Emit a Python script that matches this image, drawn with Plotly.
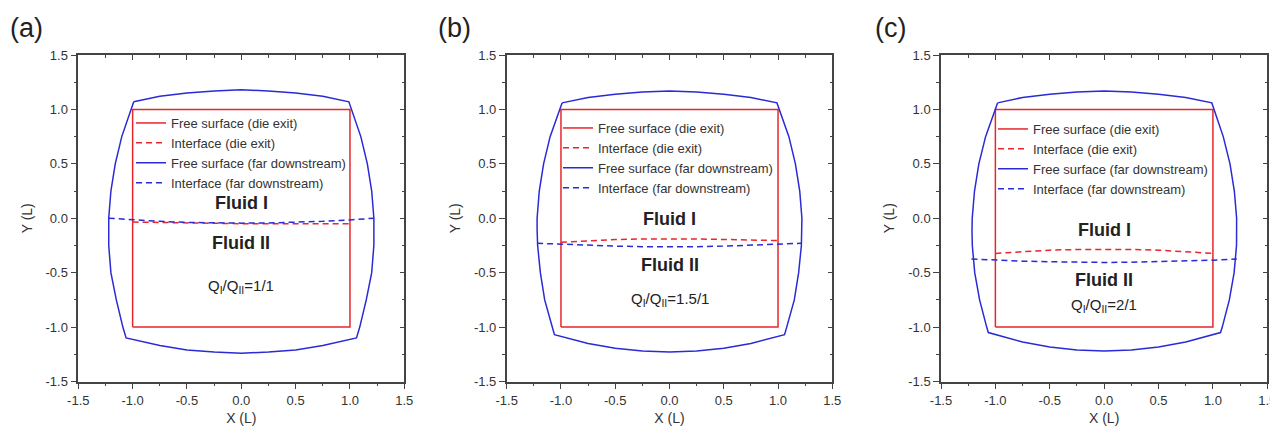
import plotly.graph_objects as go

# ---------------- data ----------------
panel_labels = ["(a)", "(b)", "(c)"]
ratio_labels = ["Q<sub>I</sub>/Q<sub>II</sub>=1/1", "Q<sub>I</sub>/Q<sub>II</sub>=1.5/1", "Q<sub>I</sub>/Q<sub>II</sub>=2/1"]
series_names = ["Free surface (die exit)", "Interface (die exit)",
                "Free surface (far downstream)", "Interface (far downstream)"]

# die exit free surface (square)
die_x = [-1, 1, 1, -1, -1]
die_y = [-1, -1, 1, 1, -1]

# far-downstream free surface outlines
far_a_x = [-0.99, -0.75, -0.5, -0.25, 0, 0.25, 0.5, 0.75, 0.99,
           1.10, 1.16, 1.20, 1.22, 1.22, 1.20, 1.15, 1.09, 1.06,
           0.75, 0.5, 0.25, 0, -0.25, -0.5, -0.75, -1.06,
           -1.09, -1.15, -1.20, -1.22, -1.22, -1.20, -1.16, -1.10, -0.99]
far_a_y = [1.07, 1.12, 1.15, 1.17, 1.18, 1.17, 1.15, 1.12, 1.07,
           0.75, 0.5, 0.25, 0.0, -0.25, -0.5, -0.75, -1.0, -1.10,
           -1.17, -1.21, -1.23, -1.24, -1.23, -1.21, -1.17, -1.10,
           -1.0, -0.75, -0.5, -0.25, 0.0, 0.25, 0.5, 0.75, 1.07]

far_b_x = [-0.99, -0.75, -0.5, -0.25, 0, 0.25, 0.5, 0.75, 0.99,
           1.10, 1.16, 1.20, 1.22, 1.22, 1.215, 1.19, 1.15, 1.08, 1.06,
           0.75, 0.5, 0.25, 0, -0.25, -0.5, -0.75, -1.06,
           -1.08, -1.15, -1.19, -1.215, -1.22, -1.22, -1.20, -1.16, -1.10, -0.99]
far_b_y = [1.06, 1.11, 1.14, 1.16, 1.17, 1.16, 1.14, 1.11, 1.06,
           0.75, 0.5, 0.25, 0.0, -0.1, -0.25, -0.5, -0.75, -1.0, -1.07,
           -1.15, -1.195, -1.22, -1.23, -1.22, -1.195, -1.15, -1.07,
           -1.0, -0.75, -0.5, -0.25, -0.1, 0.0, 0.25, 0.5, 0.75, 1.06]

far_c_x = [-0.98, -0.75, -0.5, -0.25, 0, 0.25, 0.5, 0.75, 0.99,
           1.095, 1.157, 1.197, 1.218, 1.22, 1.217, 1.195, 1.151, 1.086, 1.07,
           0.75, 0.5, 0.25, 0, -0.25, -0.5, -0.75, -1.065,
           -1.08, -1.145, -1.19, -1.212, -1.215, -1.213, -1.192, -1.152, -1.09, -0.98]
far_c_y = [1.06, 1.11, 1.14, 1.16, 1.17, 1.16, 1.14, 1.11, 1.06,
           0.75, 0.5, 0.25, 0.0, -0.12, -0.25, -0.5, -0.75, -1.0, -1.05,
           -1.137, -1.183, -1.211, -1.22, -1.211, -1.183, -1.137, -1.05,
           -1.0, -0.75, -0.5, -0.25, -0.12, 0.0, 0.25, 0.5, 0.75, 1.06]

# interfaces
die_if_x = [-1, -0.75, -0.5, -0.25, 0, 0.25, 0.5, 0.75, 1]
die_if_a_y = [-0.035, -0.04, -0.045, -0.048, -0.05, -0.05, -0.05, -0.05, -0.05]
die_if_b_y = [-0.22, -0.205, -0.196, -0.19, -0.188, -0.19, -0.195, -0.20, -0.205]
die_if_c_y = [-0.323, -0.305, -0.293, -0.287, -0.285, -0.287, -0.293, -0.305, -0.323]

far_if_x = [-1.22, -1.0, -0.75, -0.5, -0.25, 0, 0.25, 0.5, 0.75, 1.0, 1.22]
far_if_a_y = [0.0, -0.015, -0.028, -0.038, -0.043, -0.045, -0.043, -0.038, -0.028, -0.015, 0.0]
far_if_b_y = [-0.23, -0.24, -0.249, -0.256, -0.261, -0.263, -0.261, -0.256, -0.249, -0.24, -0.23]
far_if_c_y = [-0.375, -0.385, -0.394, -0.4, -0.404, -0.406, -0.404, -0.4, -0.394, -0.385, -0.375]

# text label positions (data coords)
fluid1_y = [0.14, -0.01, -0.11]
fluid2_y = [-0.23, -0.43, -0.57]
ratio_y = [-0.63, -0.75, -0.80]

tick_vals = [-1.5, -1.0, -0.5, 0.0, 0.5, 1.0, 1.5]
tick_text = ["-1.5", "-1.0", "-0.5", "0.0", "0.5", "1.0", "1.5"]

far_x = [far_a_x, far_b_x, far_c_x]
far_y = [far_a_y, far_b_y, far_c_y]
die_if_y = [die_if_a_y, die_if_b_y, die_if_c_y]
far_if_y = [far_if_a_y, far_if_b_y, far_if_c_y]

# ---------------- styling / layout ----------------
RED = "#e8262b"
BLUE = "#2a2ad6"
AX = "#444444"
FONT = "Liberation Sans, Arial"
OFF = 8                      # page body margin
W, H = 1278 - OFF, 427 - OFF


def fx(px):                  # screen px -> paper x
    return (px - OFF) / W


def fy(py):                  # screen px (from top) -> paper y
    return 1 - (py - OFF) / H


x_dom_px = [(78.3, 404.3), (506.7, 832.3), (941.0, 1267.3)]
y_dom = [fy(381.5), fy(55.0)]
legend_pos_px = [(131, 153), (558, 158), (993, 159)]
label_pos_px = [(26, 28), (455, 28), (890, 28)]

fig = go.Figure()

for i in range(3):
    n = "" if i == 0 else str(i + 1)
    xa, ya = "x" + n, "y" + n
    leg = "legend" + n
    fig.add_trace(go.Scatter(x=die_x, y=die_y, mode="lines", name=series_names[0],
                             line=dict(color=RED, width=1.5), xaxis=xa, yaxis=ya, legend=leg))
    fig.add_trace(go.Scatter(x=die_if_x, y=die_if_y[i], mode="lines", name=series_names[1],
                             line=dict(color=RED, width=1.5, dash="6px,4px"), xaxis=xa, yaxis=ya, legend=leg))
    fig.add_trace(go.Scatter(x=far_x[i], y=far_y[i], mode="lines", name=series_names[2],
                             line=dict(color=BLUE, width=1.5), xaxis=xa, yaxis=ya, legend=leg))
    fig.add_trace(go.Scatter(x=far_if_x, y=far_if_y[i], mode="lines", name=series_names[3],
                             line=dict(color=BLUE, width=1.5, dash="6px,4px"), xaxis=xa, yaxis=ya, legend=leg))
    # dummy trace for the top/right mirror axes
    fig.add_trace(go.Scatter(x=[None], y=[None], mode="lines", showlegend=False, hoverinfo="skip",
                             xaxis="x" + str(i + 4), yaxis="y" + str(i + 4)))

    dom = [fx(x_dom_px[i][0]), fx(x_dom_px[i][1])]
    common = dict(range=[-1.5, 1.5], showgrid=False, zeroline=False, showline=True,
                  linecolor=AX, linewidth=1.5, automargin=False)
    fig.layout["xaxis" + n] = dict(
        common, domain=dom, anchor="y" + n, side="bottom", ticks="outside", ticklen=6,
        tickwidth=1.2, tickcolor=AX, tickvals=tick_vals, ticktext=tick_text,
        tickfont=dict(family=FONT, size=13, color="#333"),
        minor=dict(ticks="outside", ticklen=3, tickwidth=1.2, tickcolor=AX, dtick=0.25, tick0=0, showgrid=False),
        title=dict(text="X (L)", font=dict(family=FONT, size=14, color="#333"), standoff=6))
    fig.layout["yaxis" + n] = dict(
        common, domain=y_dom, anchor="x" + n, side="left", ticks="outside", ticklen=6,
        tickwidth=1.2, tickcolor=AX, tickvals=tick_vals, ticktext=tick_text,
        tickfont=dict(family=FONT, size=13, color="#333"),
        minor=dict(ticks="outside", ticklen=3, tickwidth=1.2, tickcolor=AX, dtick=0.25, tick0=0, showgrid=False),
        title=dict(text="Y (L)", font=dict(family=FONT, size=14, color="#333"), standoff=10))
    k = str(i + 4)
    fig.layout["xaxis" + k] = dict(
        common, overlaying="x" + n, anchor="y" + k, side="top", ticks="inside", ticklen=5,
        tickwidth=1.2, tickcolor=AX, tickvals=tick_vals, showticklabels=False,
        minor=dict(ticks="inside", ticklen=3, tickwidth=1.2, tickcolor=AX, dtick=0.25, tick0=0, showgrid=False))
    fig.layout["yaxis" + k] = dict(
        common, overlaying="y" + n, anchor="x" + k, side="right", ticks="inside", ticklen=5,
        tickwidth=1.2, tickcolor=AX, tickvals=tick_vals, showticklabels=False,
        minor=dict(ticks="inside", ticklen=3, tickwidth=1.2, tickcolor=AX, dtick=0.25, tick0=0, showgrid=False))

    lx, ly = legend_pos_px[i]
    fig.layout[leg] = dict(x=fx(lx), y=fy(ly), xanchor="left", yanchor="middle",
                           bgcolor="rgba(0,0,0,0)", borderwidth=0,
                           font=dict(family=FONT, size=13, color="#333"))

    fig.add_annotation(x=0, y=fluid1_y[i], xref=xa, yref=ya, text="<b>Fluid I</b>", showarrow=False,
                       font=dict(family=FONT, size=18, color="#222"))
    fig.add_annotation(x=0, y=fluid2_y[i], xref=xa, yref=ya, text="<b>Fluid II</b>", showarrow=False,
                       font=dict(family=FONT, size=18, color="#222"))
    fig.add_annotation(x=0, y=ratio_y[i], xref=xa, yref=ya, text=ratio_labels[i], showarrow=False,
                       font=dict(family=FONT, size=15, color="#222"))
    px_, py_ = label_pos_px[i]
    fig.add_annotation(x=fx(px_), y=fy(py_), xref="paper", yref="paper", text=panel_labels[i],
                       showarrow=False, xanchor="center", yanchor="middle",
                       font=dict(family=FONT, size=27, color="#222"))

fig.update_layout(width=W, height=H, margin=dict(l=0, r=0, t=0, b=0, autoexpand=False),
                  plot_bgcolor="white", paper_bgcolor="white", showlegend=True)

fig.write_html("out.html")
